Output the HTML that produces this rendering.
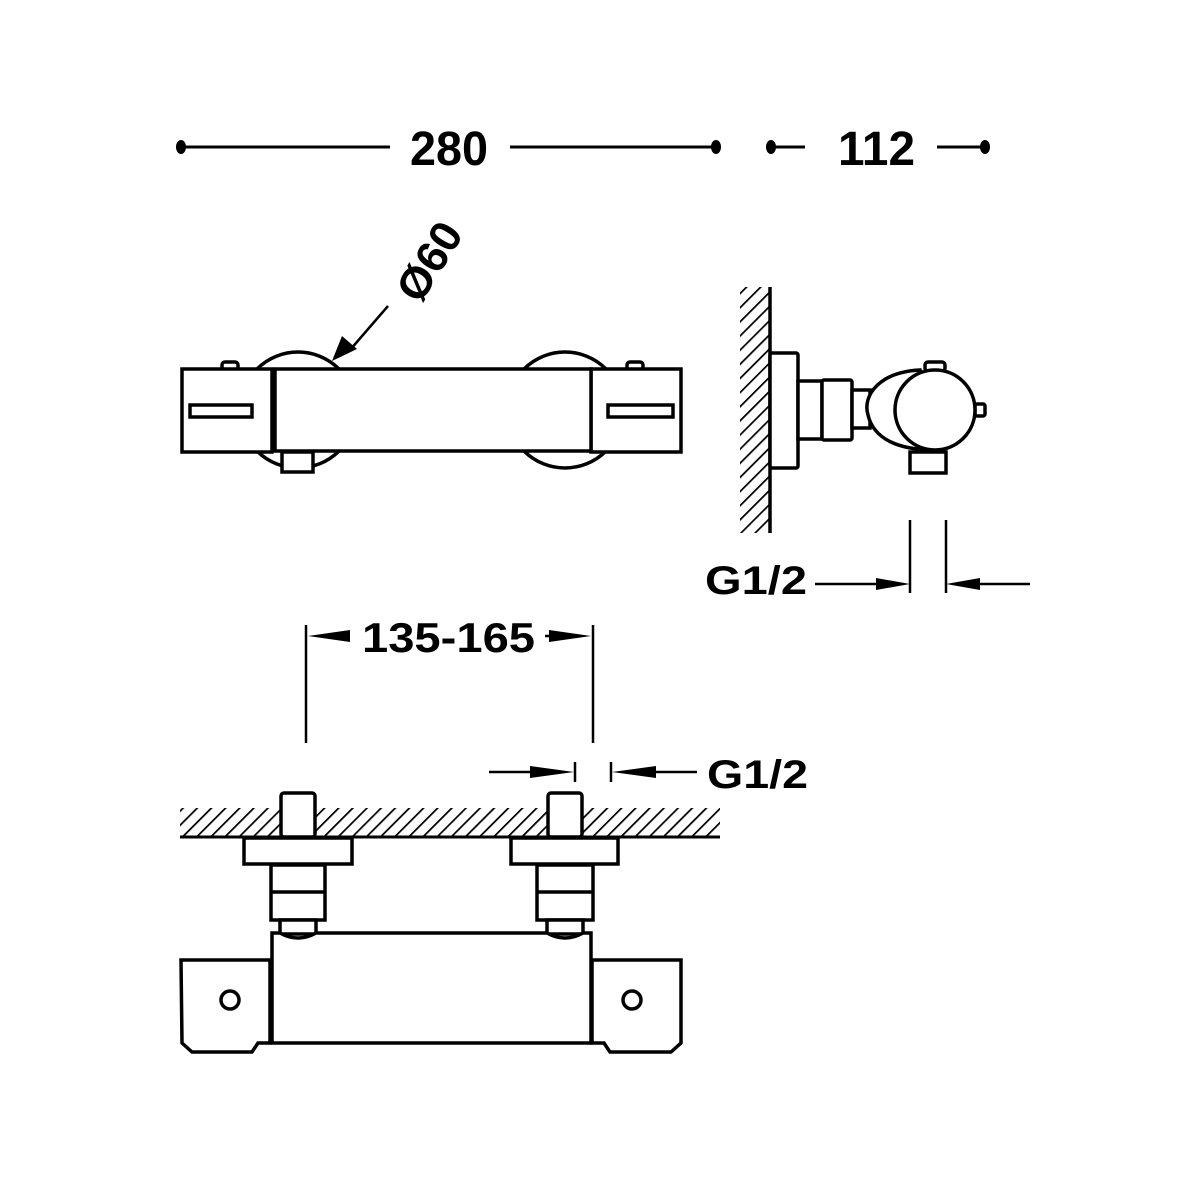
<!DOCTYPE html>
<html><head><style>html,body{margin:0;padding:0;background:#fff}svg{display:block}</style></head>
<body>
<svg width="1200" height="1200" viewBox="0 0 1200 1200" xmlns="http://www.w3.org/2000/svg">
<defs>
<pattern id="h" width="10" height="10" patternUnits="userSpaceOnUse" patternTransform="rotate(45)">
<line x1="0" y1="0" x2="0" y2="10" stroke="#000" stroke-width="3.5"/>
</pattern>
</defs>
<g font-family="Liberation Sans, sans-serif" font-weight="bold" fill="#000">
<text x="410" y="165" font-size="48" textLength="78" lengthAdjust="spacingAndGlyphs">280</text>
<text x="838" y="165" font-size="48" textLength="77" lengthAdjust="spacingAndGlyphs">112</text>
<text x="362" y="652" font-size="42" textLength="173" lengthAdjust="spacingAndGlyphs">135-165</text>
<text x="705" y="594" font-size="40" textLength="102" lengthAdjust="spacingAndGlyphs">G1/2</text>
<text x="707" y="788" font-size="40" textLength="101" lengthAdjust="spacingAndGlyphs">G1/2</text>
<text x="0" y="0" font-size="44" transform="translate(420,305) rotate(-58)" textLength="84" lengthAdjust="spacingAndGlyphs">Ø60</text>
</g>
<g stroke="#000" stroke-width="3" fill="none">
<line x1="181" y1="147" x2="390" y2="147"/><line x1="510" y1="147" x2="716" y2="147"/>
<line x1="771" y1="147" x2="805" y2="147"/><line x1="937" y1="147" x2="985" y2="147"/>
</g>
<g fill="#000">
<ellipse cx="181" cy="147" rx="5" ry="7"/><ellipse cx="716" cy="147" rx="5" ry="7"/>
<ellipse cx="771" cy="147" rx="5" ry="7"/><ellipse cx="985" cy="147" rx="5" ry="7"/>
</g>
<g stroke="#000" stroke-width="3.5" fill="#fff">
<circle cx="298" cy="410" r="58"/>
<circle cx="565" cy="410" r="58"/>
<rect x="282" y="452" width="31" height="20"/>
<rect x="222" y="362" width="16" height="8" rx="3"/>
<rect x="627" y="362" width="16" height="8" rx="3"/>
<rect x="182" y="369" width="90" height="83"/>
<rect x="591" y="369" width="90" height="83"/>
<rect x="275" y="369" width="316" height="82"/>
<rect x="190" y="405" width="62" height="12"/>
<rect x="608" y="405" width="65" height="12"/>
</g>
<line x1="388" y1="306" x2="350" y2="350" stroke="#000" stroke-width="2.5"/>
<polygon points="332,361 342,336 357,349" fill="#000"/>
<rect x="740" y="287" width="30" height="246" fill="url(#h)"/>
<line x1="770" y1="287" x2="770" y2="533" stroke="#000" stroke-width="3.5"/>
<g stroke="#000" stroke-width="3.5" fill="#fff">
<rect x="770" y="353" width="28" height="115" rx="2"/>
<rect x="798" y="381" width="24" height="58"/>
<rect x="822" y="380" width="30" height="60" rx="2"/>
<rect x="852" y="390" width="18" height="38"/>
<rect x="910" y="452" width="36" height="21"/>
<rect x="925" y="362" width="20" height="9" rx="3"/>
<rect x="975" y="404" width="10" height="12" rx="2"/>
<path d="M920,370 C880,372 862,395 868,415 C874,440 900,450 935,450 Z"/>
<circle cx="935" cy="410" r="40"/>
</g>
<g stroke="#000" stroke-width="2.5">
<line x1="910" y1="520" x2="910" y2="593"/><line x1="946" y1="520" x2="946" y2="593"/>
<line x1="815" y1="584" x2="890" y2="584"/><line x1="965" y1="584" x2="1030" y2="584"/>
<line x1="306" y1="625" x2="306" y2="743"/><line x1="593" y1="625" x2="593" y2="743"/>
<line x1="320" y1="636" x2="350" y2="636"/><line x1="545" y1="636" x2="580" y2="636"/>
<line x1="575" y1="762" x2="575" y2="782"/><line x1="611" y1="762" x2="611" y2="782"/>
<line x1="489" y1="772" x2="555" y2="772"/><line x1="630" y1="772" x2="697" y2="772"/>
</g>
<g fill="#000">
<polygon points="910,584 876,578 876,590"/><polygon points="946,584 980,578 980,590"/>
<polygon points="308,636 350,630 350,642"/><polygon points="591,636 549,630 549,642"/>
<polygon points="574,772 530,766 530,778"/><polygon points="612,772 656,766 656,778"/>
</g>
<rect x="180" y="808" width="540" height="29" fill="url(#h)"/>
<line x1="180" y1="837" x2="720" y2="837" stroke="#000" stroke-width="3"/>
<g stroke="#000" stroke-width="3.5" fill="#fff">
<rect x="281" y="793" width="34" height="44" rx="3"/>
<rect x="548" y="793" width="34" height="44" rx="3"/>
<rect x="244" y="838" width="108" height="26"/>
<rect x="511" y="838" width="107" height="26"/>
<rect x="271" y="865" width="54" height="55"/>
<line x1="271" y1="892" x2="325" y2="892"/>
<rect x="537" y="865" width="56" height="55"/>
<line x1="537" y1="892" x2="593" y2="892"/>
<rect x="280" y="920" width="36" height="14"/>
<rect x="547" y="920" width="36" height="14"/>
<path d="M181,960 L270,960 L270,1043 L258,1043 L252,1052 L192,1052 L182,1043 Z"/>
<path d="M592,960 L681,960 L681,1043 L671,1052 L610,1052 L604,1043 L592,1043 Z"/>
<path d="M272,933 L280,933 Q298,943 316,933 L547,933 Q565,943 583,933 L591,933 L591,1043 L272,1043 Z"/>
<circle cx="230" cy="1000" r="9"/>
<circle cx="632" cy="1000" r="9"/>
</g>
</svg>
</body></html>
